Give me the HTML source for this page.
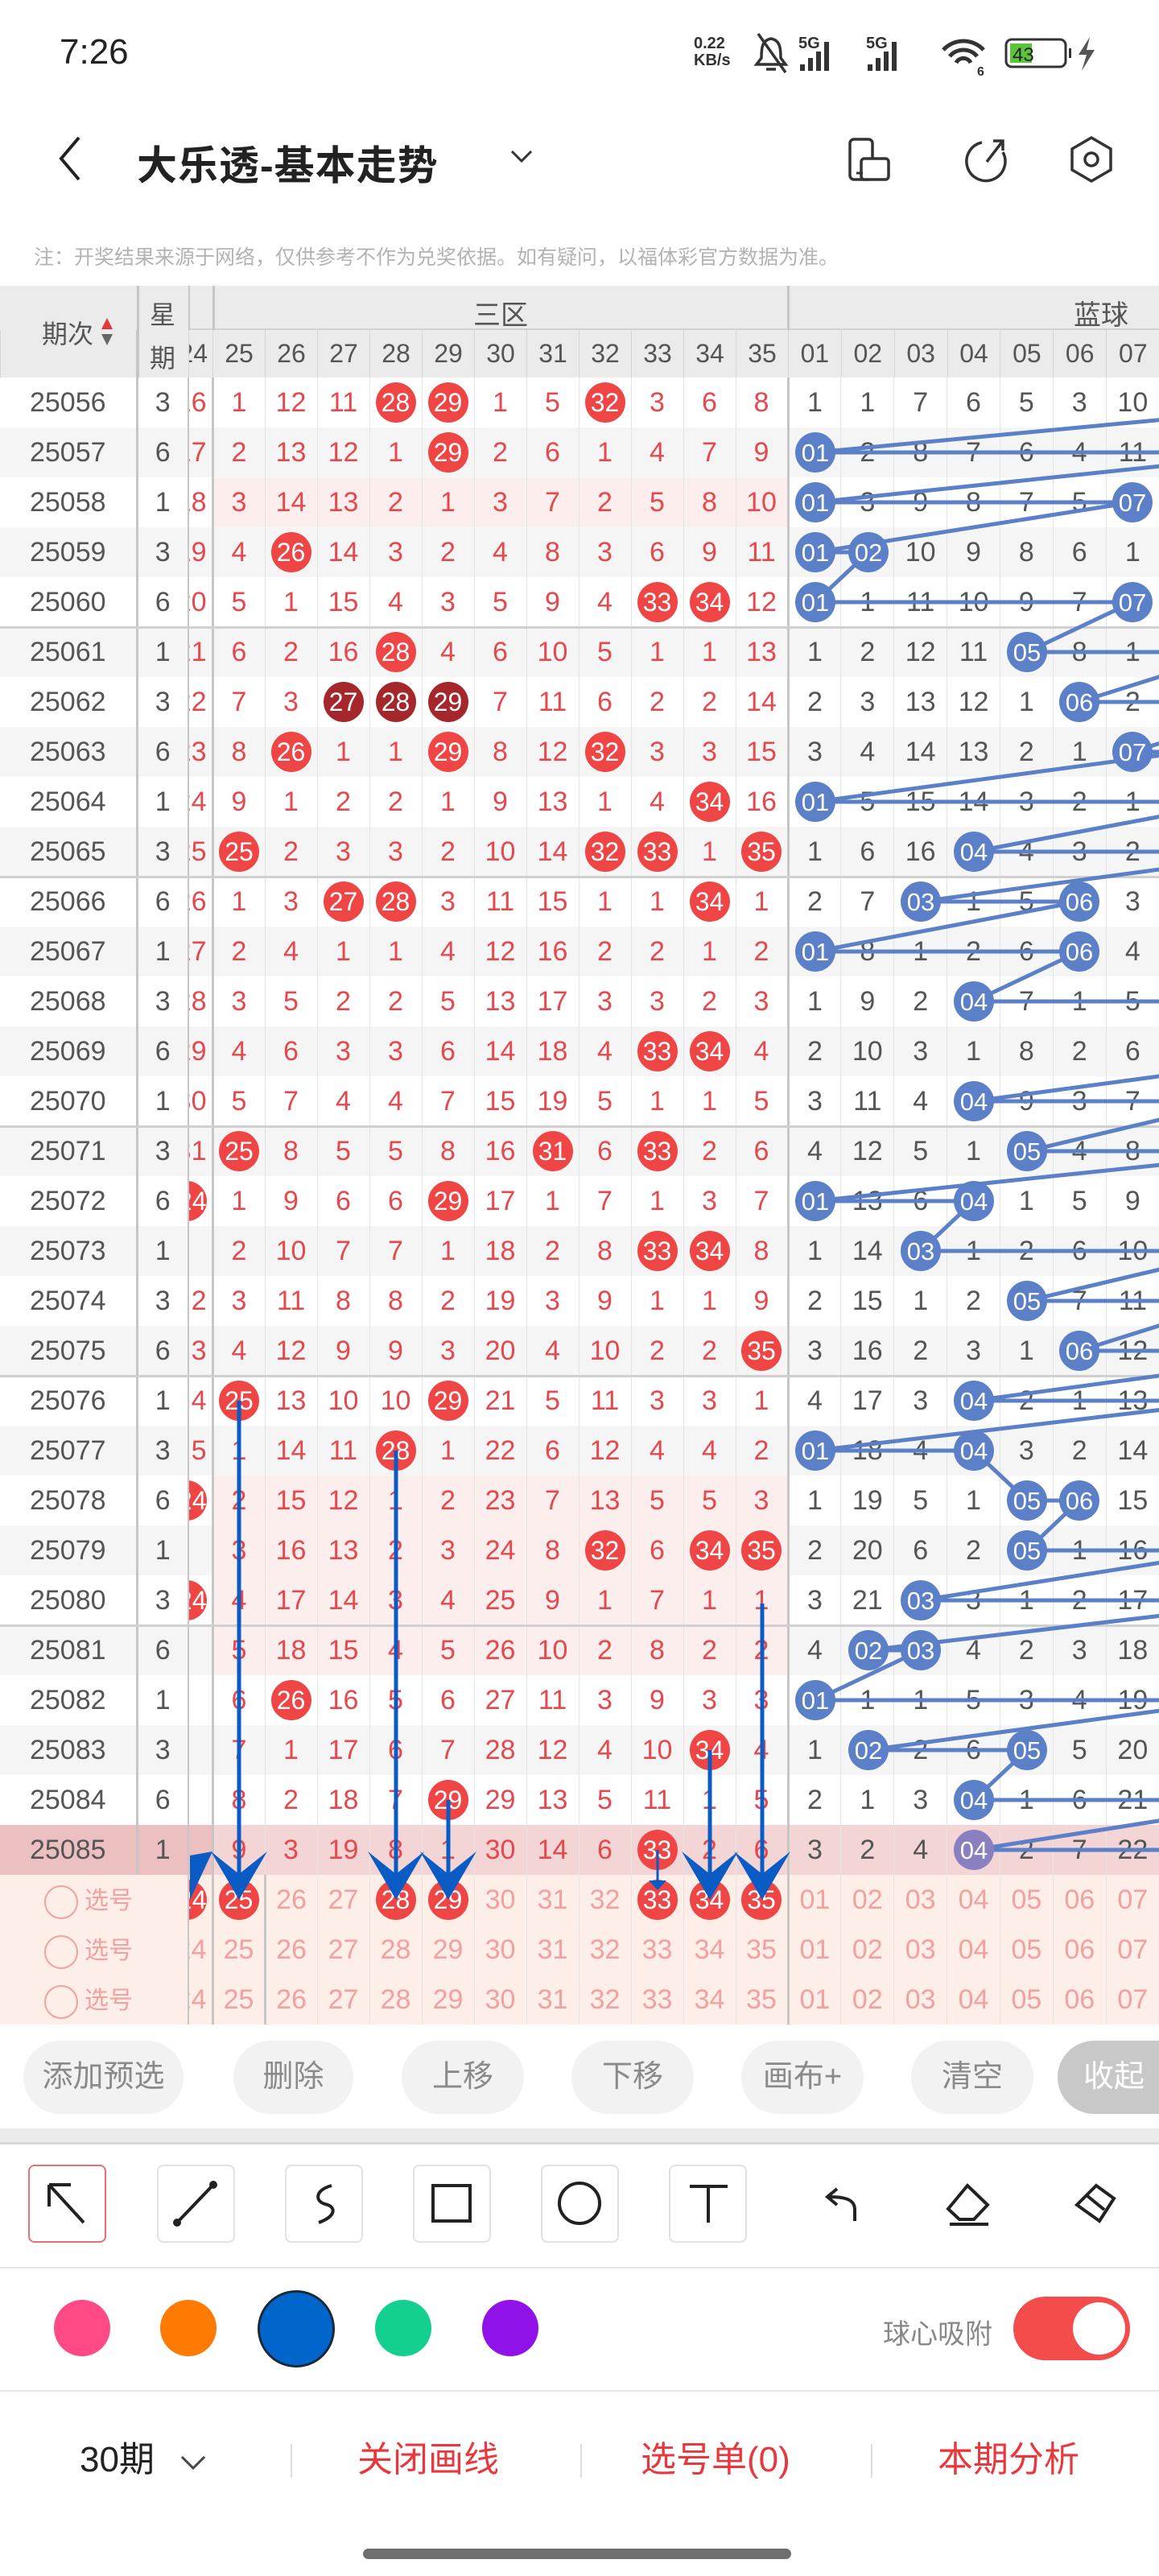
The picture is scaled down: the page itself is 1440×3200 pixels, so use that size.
<!DOCTYPE html>
<html><head><meta charset="utf-8">
<style>
*{margin:0;padding:0;box-sizing:border-box}
body{width:1440px;height:3200px;position:relative;background:#fff;font-family:"Liberation Sans","Noto Sans CJK SC",sans-serif;overflow:hidden}
.a{position:absolute}
table{border-collapse:collapse;table-layout:fixed;width:1440px;position:absolute;left:0}
td{height:62px;padding:0;text-align:center;font-size:34px;color:#e5484d;border-left:1px solid #e4e4e4;overflow:hidden;white-space:nowrap}
td:nth-child(1){color:#555;border-left:none}
td:nth-child(2){color:#555;border-left:3px solid #c6c6c6}
td:nth-child(3){border-left:2px solid #c6c6c6;direction:rtl;text-align:right;padding-right:6px}
td:nth-child(4){border-left:3px solid #c6c6c6}
td:nth-child(n+15){color:#555}
td:nth-child(15){border-left:3px solid #c6c6c6}
#t tr:nth-child(even) td{background:#f5f5f5}
#t tr.p td:nth-child(n+4):nth-child(-n+14){background:#fdeeee}
#t tr.h td{background:#f3d5d5}
#t tr.h td:nth-child(-n+3){background:#ecc0c1}
#t tr.s td{background:#fdeee8;color:#f2a0a0}
#t tr.s td:first-child{text-align:left;padding-left:55px;color:#f2a0a0;font-size:30px;border-left:none}
#t tr.s td:nth-child(2){border-left:2px solid #c6c6c6;direction:rtl;text-align:right;padding-right:6px;color:#f2a0a0}
#t tr.s td:nth-child(3){border-left:3px solid #c6c6c6;direction:ltr;text-align:center;padding:0}
#t tr.s td:nth-child(14){border-left:3px solid #c6c6c6}
#t tr.s td:nth-child(15){border-left:1px solid #e4e4e4}
.o{display:inline-block;width:42px;height:42px;border:2px solid #f2a0a0;border-radius:50%;vertical-align:middle;margin-right:8px}
b{display:inline-block;width:50px;height:50px;border-radius:50%;background:#ef4545;color:#fff;line-height:50px;font-weight:normal;font-size:32px;direction:ltr}
b.d{background:#a5262b}
#hd td{height:59px;background:#ebebeb;color:#555;font-size:32px;border-left:1px solid #d6d6d6}
.btn{position:absolute;top:2535px;height:91px;border-radius:46px;background:#f2f2f2;color:#8a8a8a;font-size:38px;line-height:91px;text-align:center}
.tb{position:absolute;top:2689px;width:97px;height:97px;border:2px solid #e2e2e2;border-radius:8px}
.dot{position:absolute;border-radius:50%}
.bt{position:absolute;top:3028px;font-size:44px;line-height:56px;color:#e8383d}
</style></head><body>

<!-- status bar -->
<div class="a" style="left:74px;top:40px;font-size:44px;color:#222">7:26</div>
<div class="a" style="left:862px;top:44px;font-size:20px;line-height:21px;color:#333;font-weight:bold">0.22<br>KB/s</div>
<svg class="a" style="left:930px;top:38px" width="440" height="56" font-family="Liberation Sans">
<path d="M28 10 C16 12 16 24 16 34 L10 42 L46 42 L40 34 C40 24 40 12 28 10Z M22 48 L34 48" fill="none" stroke="#333" stroke-width="3.5"/><line x1="12" y1="4" x2="46" y2="52" stroke="#333" stroke-width="3.5"/>
<text x="62" y="22" font-size="20" font-weight="bold" fill="#333">5G</text>
<rect x="64" y="42" width="6" height="8" fill="#333"/><rect x="74" y="34" width="6" height="16" fill="#333"/><rect x="84" y="26" width="6" height="24" fill="#333"/><rect x="94" y="14" width="6" height="36" fill="#333"/>
<text x="146" y="22" font-size="20" font-weight="bold" fill="#333">5G</text>
<rect x="148" y="42" width="6" height="8" fill="#333"/><rect x="158" y="34" width="6" height="16" fill="#333"/><rect x="168" y="26" width="6" height="24" fill="#333"/><rect x="178" y="14" width="6" height="36" fill="#333"/>
<path d="M242 24 A34 34 0 0 1 292 24 M250 32 A22 22 0 0 1 284 32 M258 40 A10 10 0 0 1 276 40" fill="none" stroke="#333" stroke-width="5"/>
<text x="284" y="56" font-size="16" font-weight="bold" fill="#333">6</text>
<rect x="320" y="11" width="74" height="34" rx="7" fill="none" stroke="#333" stroke-width="3"/>
<rect x="325" y="16" width="27" height="24" fill="#5cc43a"/>
<text x="328" y="38" font-size="24" fill="#222">43</text>
<rect x="398" y="22" width="3" height="12" fill="#333"/>
<path d="M424 8 L410 30 L420 30 L414 50 L430 24 L420 24Z" fill="#555"/>
</svg>

<!-- title bar -->
<svg class="a" style="left:60px;top:165px" width="50" height="65"><path d="M38 6 L16 32 L38 58" fill="none" stroke="#222" stroke-width="4"/></svg>
<div class="a" style="left:170px;top:166px;font-size:50px;font-weight:bold;color:#222;letter-spacing:1px">大乐透-基本走势</div>
<svg class="a" style="left:630px;top:180px" width="40" height="30"><path d="M6 8 L18 20 L30 8" fill="none" stroke="#333" stroke-width="3"/></svg>
<svg class="a" style="left:1050px;top:165px" width="360" height="65">
<rect x="6" y="8" width="28" height="50" rx="5" fill="none" stroke="#333" stroke-width="3.5"/><rect x="20" y="32" width="34" height="26" rx="4" fill="#fff" stroke="#333" stroke-width="3.5"/><line x1="14" y1="50" x2="22" y2="50" stroke="#333" stroke-width="3"/>
<path d="M170 12 A24 24 0 1 0 196 24" fill="none" stroke="#333" stroke-width="3.5"/><path d="M176 36 L196 10 M184 10 L196 10 L196 22" fill="none" stroke="#333" stroke-width="3.5"/>
<path d="M306 6 L330 20 L330 46 L306 60 L282 46 L282 20Z" fill="none" stroke="#333" stroke-width="3.5"/><circle cx="306" cy="33" r="8" fill="none" stroke="#333" stroke-width="3.5"/>
</svg>
<div class="a" style="left:42px;top:300px;font-size:25px;color:#b3b3b3">注：开奖结果来源于网络，仅供参考不作为兑奖依据。如有疑问，以福体彩官方数据为准。</div>

<!-- header -->
<div class="a" style="left:0;top:355px;width:1440px;height:114px;background:#ebebeb"></div>
<div class="a" style="left:234px;top:408px;width:1206px;height:3px;background:#d2d2d2"></div>
<div class="a" style="left:52px;top:390px;font-size:32px;color:#555">期次</div>
<svg class="a" style="left:124px;top:393px" width="18" height="40"><path d="M9 2 L16 16 L2 16Z" fill="#e5383d"/><path d="M2 22 L16 22 L9 36Z" fill="#666"/></svg>
<div class="a" style="left:186px;top:366px;font-size:32px;color:#555">星</div>
<div class="a" style="left:186px;top:420px;font-size:32px;color:#555">期</div>
<div class="a" style="left:588px;top:364px;font-size:34px;color:#555">三区</div>
<div class="a" style="left:1334px;top:364px;font-size:34px;color:#555">蓝球</div>
<div class="a" style="left:170px;top:355px;width:3px;height:114px;background:#c6c6c6"></div>
<div class="a" style="left:234px;top:355px;width:2px;height:114px;background:#c6c6c6"></div>
<div class="a" style="left:264px;top:355px;width:3px;height:114px;background:#c6c6c6"></div>
<div class="a" style="left:978px;top:355px;width:3px;height:114px;background:#c6c6c6"></div>
<table id="hd" style="top:410px"><colgroup><col style="width:170px"><col style="width:64px"><col style="width:30px"><col span="11" style="width:65px"><col span="7" style="width:65.86px"></colgroup>
<tr><td style="background:transparent"></td><td style="background:transparent;border-left:3px solid #c6c6c6"></td><td>24</td><td>25</td><td>26</td><td>27</td><td>28</td><td>29</td><td>30</td><td>31</td><td>32</td><td>33</td><td>34</td><td>35</td><td>01</td><td>02</td><td>03</td><td>04</td><td>05</td><td>06</td><td>07</td></tr></table>

<!-- main table -->
<table id="t" style="top:469px"><colgroup><col style="width:170px"><col style="width:64px"><col style="width:30px"><col span="11" style="width:65px"><col span="7" style="width:65.86px"></colgroup>
<tr><td>25056</td><td>3</td><td>16</td><td>1</td><td>12</td><td>11</td><td><b>28</b></td><td><b>29</b></td><td>1</td><td>5</td><td><b>32</b></td><td>3</td><td>6</td><td>8</td><td>1</td><td>1</td><td>7</td><td>6</td><td>5</td><td>3</td><td>10</td></tr>
<tr><td>25057</td><td>6</td><td>17</td><td>2</td><td>13</td><td>12</td><td>1</td><td><b>29</b></td><td>2</td><td>6</td><td>1</td><td>4</td><td>7</td><td>9</td><td></td><td>2</td><td>8</td><td>7</td><td>6</td><td>4</td><td>11</td></tr>
<tr class="p"><td>25058</td><td>1</td><td>18</td><td>3</td><td>14</td><td>13</td><td>2</td><td>1</td><td>3</td><td>7</td><td>2</td><td>5</td><td>8</td><td>10</td><td></td><td>3</td><td>9</td><td>8</td><td>7</td><td>5</td><td></td></tr>
<tr><td>25059</td><td>3</td><td>19</td><td>4</td><td><b>26</b></td><td>14</td><td>3</td><td>2</td><td>4</td><td>8</td><td>3</td><td>6</td><td>9</td><td>11</td><td></td><td></td><td>10</td><td>9</td><td>8</td><td>6</td><td>1</td></tr>
<tr><td>25060</td><td>6</td><td>20</td><td>5</td><td>1</td><td>15</td><td>4</td><td>3</td><td>5</td><td>9</td><td>4</td><td><b>33</b></td><td><b>34</b></td><td>12</td><td></td><td>1</td><td>11</td><td>10</td><td>9</td><td>7</td><td></td></tr>
<tr><td>25061</td><td>1</td><td>21</td><td>6</td><td>2</td><td>16</td><td><b>28</b></td><td>4</td><td>6</td><td>10</td><td>5</td><td>1</td><td>1</td><td>13</td><td>1</td><td>2</td><td>12</td><td>11</td><td></td><td>8</td><td>1</td></tr>
<tr><td>25062</td><td>3</td><td>22</td><td>7</td><td>3</td><td><b class="d">27</b></td><td><b class="d">28</b></td><td><b class="d">29</b></td><td>7</td><td>11</td><td>6</td><td>2</td><td>2</td><td>14</td><td>2</td><td>3</td><td>13</td><td>12</td><td>1</td><td></td><td>2</td></tr>
<tr><td>25063</td><td>6</td><td>23</td><td>8</td><td><b>26</b></td><td>1</td><td>1</td><td><b>29</b></td><td>8</td><td>12</td><td><b>32</b></td><td>3</td><td>3</td><td>15</td><td>3</td><td>4</td><td>14</td><td>13</td><td>2</td><td>1</td><td></td></tr>
<tr><td>25064</td><td>1</td><td>24</td><td>9</td><td>1</td><td>2</td><td>2</td><td>1</td><td>9</td><td>13</td><td>1</td><td>4</td><td><b>34</b></td><td>16</td><td></td><td>5</td><td>15</td><td>14</td><td>3</td><td>2</td><td>1</td></tr>
<tr><td>25065</td><td>3</td><td>25</td><td><b>25</b></td><td>2</td><td>3</td><td>3</td><td>2</td><td>10</td><td>14</td><td><b>32</b></td><td><b>33</b></td><td>1</td><td><b>35</b></td><td>1</td><td>6</td><td>16</td><td></td><td>4</td><td>3</td><td>2</td></tr>
<tr><td>25066</td><td>6</td><td>26</td><td>1</td><td>3</td><td><b>27</b></td><td><b>28</b></td><td>3</td><td>11</td><td>15</td><td>1</td><td>1</td><td><b>34</b></td><td>1</td><td>2</td><td>7</td><td></td><td>1</td><td>5</td><td></td><td>3</td></tr>
<tr><td>25067</td><td>1</td><td>27</td><td>2</td><td>4</td><td>1</td><td>1</td><td>4</td><td>12</td><td>16</td><td>2</td><td>2</td><td>1</td><td>2</td><td></td><td>8</td><td>1</td><td>2</td><td>6</td><td></td><td>4</td></tr>
<tr><td>25068</td><td>3</td><td>28</td><td>3</td><td>5</td><td>2</td><td>2</td><td>5</td><td>13</td><td>17</td><td>3</td><td>3</td><td>2</td><td>3</td><td>1</td><td>9</td><td>2</td><td></td><td>7</td><td>1</td><td>5</td></tr>
<tr><td>25069</td><td>6</td><td>29</td><td>4</td><td>6</td><td>3</td><td>3</td><td>6</td><td>14</td><td>18</td><td>4</td><td><b>33</b></td><td><b>34</b></td><td>4</td><td>2</td><td>10</td><td>3</td><td>1</td><td>8</td><td>2</td><td>6</td></tr>
<tr><td>25070</td><td>1</td><td>30</td><td>5</td><td>7</td><td>4</td><td>4</td><td>7</td><td>15</td><td>19</td><td>5</td><td>1</td><td>1</td><td>5</td><td>3</td><td>11</td><td>4</td><td></td><td>9</td><td>3</td><td>7</td></tr>
<tr><td>25071</td><td>3</td><td>31</td><td><b>25</b></td><td>8</td><td>5</td><td>5</td><td>8</td><td>16</td><td><b>31</b></td><td>6</td><td><b>33</b></td><td>2</td><td>6</td><td>4</td><td>12</td><td>5</td><td>1</td><td></td><td>4</td><td>8</td></tr>
<tr><td>25072</td><td>6</td><td><b>24</b></td><td>1</td><td>9</td><td>6</td><td>6</td><td><b>29</b></td><td>17</td><td>1</td><td>7</td><td>1</td><td>3</td><td>7</td><td></td><td>13</td><td>6</td><td></td><td>1</td><td>5</td><td>9</td></tr>
<tr><td>25073</td><td>1</td><td></td><td>2</td><td>10</td><td>7</td><td>7</td><td>1</td><td>18</td><td>2</td><td>8</td><td><b>33</b></td><td><b>34</b></td><td>8</td><td>1</td><td>14</td><td></td><td>1</td><td>2</td><td>6</td><td>10</td></tr>
<tr><td>25074</td><td>3</td><td>2</td><td>3</td><td>11</td><td>8</td><td>8</td><td>2</td><td>19</td><td>3</td><td>9</td><td>1</td><td>1</td><td>9</td><td>2</td><td>15</td><td>1</td><td>2</td><td></td><td>7</td><td>11</td></tr>
<tr><td>25075</td><td>6</td><td>3</td><td>4</td><td>12</td><td>9</td><td>9</td><td>3</td><td>20</td><td>4</td><td>10</td><td>2</td><td>2</td><td><b>35</b></td><td>3</td><td>16</td><td>2</td><td>3</td><td>1</td><td></td><td>12</td></tr>
<tr><td>25076</td><td>1</td><td>4</td><td><b>25</b></td><td>13</td><td>10</td><td>10</td><td><b>29</b></td><td>21</td><td>5</td><td>11</td><td>3</td><td>3</td><td>1</td><td>4</td><td>17</td><td>3</td><td></td><td>2</td><td>1</td><td>13</td></tr>
<tr><td>25077</td><td>3</td><td>5</td><td>1</td><td>14</td><td>11</td><td><b>28</b></td><td>1</td><td>22</td><td>6</td><td>12</td><td>4</td><td>4</td><td>2</td><td></td><td>18</td><td>4</td><td></td><td>3</td><td>2</td><td>14</td></tr>
<tr class="p"><td>25078</td><td>6</td><td><b>24</b></td><td>2</td><td>15</td><td>12</td><td>1</td><td>2</td><td>23</td><td>7</td><td>13</td><td>5</td><td>5</td><td>3</td><td>1</td><td>19</td><td>5</td><td>1</td><td></td><td></td><td>15</td></tr>
<tr class="p"><td>25079</td><td>1</td><td></td><td>3</td><td>16</td><td>13</td><td>2</td><td>3</td><td>24</td><td>8</td><td><b>32</b></td><td>6</td><td><b>34</b></td><td><b>35</b></td><td>2</td><td>20</td><td>6</td><td>2</td><td></td><td>1</td><td>16</td></tr>
<tr class="p"><td>25080</td><td>3</td><td><b>24</b></td><td>4</td><td>17</td><td>14</td><td>3</td><td>4</td><td>25</td><td>9</td><td>1</td><td>7</td><td>1</td><td>1</td><td>3</td><td>21</td><td></td><td>3</td><td>1</td><td>2</td><td>17</td></tr>
<tr class="p"><td>25081</td><td>6</td><td></td><td>5</td><td>18</td><td>15</td><td>4</td><td>5</td><td>26</td><td>10</td><td>2</td><td>8</td><td>2</td><td>2</td><td>4</td><td></td><td></td><td>4</td><td>2</td><td>3</td><td>18</td></tr>
<tr><td>25082</td><td>1</td><td></td><td>6</td><td><b>26</b></td><td>16</td><td>5</td><td>6</td><td>27</td><td>11</td><td>3</td><td>9</td><td>3</td><td>3</td><td></td><td>1</td><td>1</td><td>5</td><td>3</td><td>4</td><td>19</td></tr>
<tr><td>25083</td><td>3</td><td></td><td>7</td><td>1</td><td>17</td><td>6</td><td>7</td><td>28</td><td>12</td><td>4</td><td>10</td><td><b>34</b></td><td>4</td><td>1</td><td></td><td>2</td><td>6</td><td></td><td>5</td><td>20</td></tr>
<tr><td>25084</td><td>6</td><td></td><td>8</td><td>2</td><td>18</td><td>7</td><td><b>29</b></td><td>29</td><td>13</td><td>5</td><td>11</td><td>1</td><td>5</td><td>2</td><td>1</td><td>3</td><td></td><td>1</td><td>6</td><td>21</td></tr>
<tr class="h"><td>25085</td><td>1</td><td></td><td>9</td><td>3</td><td>19</td><td>8</td><td>1</td><td>30</td><td>14</td><td>6</td><td><b>33</b></td><td>2</td><td>6</td><td>3</td><td>2</td><td>4</td><td></td><td>2</td><td>7</td><td>22</td></tr>
<tr class="s"><td colspan="2"><span class="o"></span>选号</td><td><b>24</b></td><td><b>25</b></td><td>26</td><td>27</td><td><b>28</b></td><td><b>29</b></td><td>30</td><td>31</td><td>32</td><td><b>33</b></td><td><b>34</b></td><td><b>35</b></td><td>01</td><td>02</td><td>03</td><td>04</td><td>05</td><td>06</td><td>07</td></tr>
<tr class="s"><td colspan="2"><span class="o"></span>选号</td><td>24</td><td>25</td><td>26</td><td>27</td><td>28</td><td>29</td><td>30</td><td>31</td><td>32</td><td>33</td><td>34</td><td>35</td><td>01</td><td>02</td><td>03</td><td>04</td><td>05</td><td>06</td><td>07</td></tr>
<tr class="s"><td colspan="2"><span class="o"></span>选号</td><td>24</td><td>25</td><td>26</td><td>27</td><td>28</td><td>29</td><td>30</td><td>31</td><td>32</td><td>33</td><td>34</td><td>35</td><td>01</td><td>02</td><td>03</td><td>04</td><td>05</td><td>06</td><td>07</td></tr>
</table>

<!-- overlay -->
<svg class="a" style="left:0;top:0" width="1440" height="2520" font-family="Liberation Sans">
<g fill="#d0d0d0"><rect x="0" y="778" width="1440" height="3"/><rect x="0" y="1088" width="1440" height="3"/><rect x="0" y="1398" width="1440" height="3"/><rect x="0" y="1708" width="1440" height="3"/><rect x="0" y="2018" width="1440" height="3"/></g>
<polyline fill="none" stroke="#5b80c8" stroke-width="5" points="1538,500 1670,500 1013,562 1604,562 1013,624 1407,624 1013,686 1079,686 1013,748 1407,748 1276,810 1538,810 1341,872 1604,872 1407,934 1473,934 1013,996 1538,996 1210,1058 1604,1058 1144,1120 1341,1120 1013,1182 1341,1182 1210,1244 1538,1244 1538,1306 1670,1306 1210,1368 1538,1368 1276,1430 1604,1430 1013,1492 1210,1492 1144,1554 1538,1554 1276,1616 1538,1616 1341,1678 1670,1678 1210,1740 1538,1740 1013,1802 1210,1802 1276,1864 1341,1864 1276,1926 1538,1926 1144,1988 1604,1988 1079,2050 1144,2050 1013,2112 1538,2112 1079,2174 1276,2174 1210,2236 1604,2236 1210,2298 1604,2298"/>
<g fill="#5b80c8"><circle cx="1013" cy="562" r="25"/><circle cx="1013" cy="624" r="25"/><circle cx="1407" cy="624" r="25"/><circle cx="1013" cy="686" r="25"/><circle cx="1079" cy="686" r="25"/><circle cx="1013" cy="748" r="25"/><circle cx="1407" cy="748" r="25"/><circle cx="1276" cy="810" r="25"/><circle cx="1341" cy="872" r="25"/><circle cx="1407" cy="934" r="25"/><circle cx="1013" cy="996" r="25"/><circle cx="1210" cy="1058" r="25"/><circle cx="1144" cy="1120" r="25"/><circle cx="1341" cy="1120" r="25"/><circle cx="1013" cy="1182" r="25"/><circle cx="1341" cy="1182" r="25"/><circle cx="1210" cy="1244" r="25"/><circle cx="1210" cy="1368" r="25"/><circle cx="1276" cy="1430" r="25"/><circle cx="1013" cy="1492" r="25"/><circle cx="1210" cy="1492" r="25"/><circle cx="1144" cy="1554" r="25"/><circle cx="1276" cy="1616" r="25"/><circle cx="1341" cy="1678" r="25"/><circle cx="1210" cy="1740" r="25"/><circle cx="1013" cy="1802" r="25"/><circle cx="1210" cy="1802" r="25"/><circle cx="1276" cy="1864" r="25"/><circle cx="1341" cy="1864" r="25"/><circle cx="1276" cy="1926" r="25"/><circle cx="1144" cy="1988" r="25"/><circle cx="1079" cy="2050" r="25"/><circle cx="1144" cy="2050" r="25"/><circle cx="1013" cy="2112" r="25"/><circle cx="1079" cy="2174" r="25"/><circle cx="1276" cy="2174" r="25"/><circle cx="1210" cy="2236" r="25"/><circle cx="1210" cy="2298" r="25" fill="#8a80c0"/></g>
<g fill="#fff" font-size="31" text-anchor="middle">
<text x="1013" y="573">01</text><text x="1013" y="635">01</text><text x="1407" y="635">07</text><text x="1013" y="697">01</text><text x="1079" y="697">02</text><text x="1013" y="759">01</text><text x="1407" y="759">07</text><text x="1276" y="821">05</text><text x="1341" y="883">06</text><text x="1407" y="945">07</text><text x="1013" y="1007">01</text><text x="1210" y="1069">04</text><text x="1144" y="1131">03</text><text x="1341" y="1131">06</text><text x="1013" y="1193">01</text><text x="1341" y="1193">06</text><text x="1210" y="1255">04</text><text x="1210" y="1379">04</text><text x="1276" y="1441">05</text><text x="1013" y="1503">01</text><text x="1210" y="1503">04</text><text x="1144" y="1565">03</text><text x="1276" y="1627">05</text><text x="1341" y="1689">06</text><text x="1210" y="1751">04</text><text x="1013" y="1813">01</text><text x="1210" y="1813">04</text><text x="1276" y="1875">05</text><text x="1341" y="1875">06</text><text x="1276" y="1937">05</text><text x="1144" y="1999">03</text><text x="1079" y="2061">02</text><text x="1144" y="2061">03</text><text x="1013" y="2123">01</text><text x="1079" y="2185">02</text><text x="1276" y="2185">05</text><text x="1210" y="2247">04</text><text x="1210" y="2309">04</text></g>
<g stroke="#0a5cc4" stroke-width="5"><line x1="297" y1="1740" x2="297" y2="2330"/><line x1="492" y1="1802" x2="492" y2="2330"/><line x1="557" y1="2236" x2="557" y2="2330"/><line x1="882" y1="2174" x2="882" y2="2330"/><line x1="947" y1="1992" x2="947" y2="2330"/><line x1="817" y1="2298" x2="817" y2="2340" stroke-width="3"/></g>
<g fill="#0a5cc4"><path d="M297 2360 L262 2300 L297 2328 L332 2300Z"/><path d="M492 2360 L457 2300 L492 2328 L527 2300Z"/><path d="M557 2360 L522 2300 L557 2328 L592 2300Z"/><path d="M882 2360 L847 2300 L882 2328 L917 2300Z"/><path d="M947 2360 L912 2300 L947 2328 L982 2300Z"/><path d="M236 2360 L236 2305 L264 2300Z"/><path d="M817 2348 L806 2336 L828 2336Z"/></g>
</svg>

<!-- buttons -->
<div class="btn" style="left:29px;width:199px">添加预选</div>
<div class="btn" style="left:290px;width:149px">删除</div>
<div class="btn" style="left:499px;width:152px">上移</div>
<div class="btn" style="left:710px;width:152px">下移</div>
<div class="btn" style="left:921px;width:152px">画布+</div>
<div class="btn" style="left:1132px;width:152px">清空</div>
<div class="btn" style="left:1314px;width:140px;background:#c8c8c8;color:#fff;border-radius:46px 0 0 46px">收起</div>
<div class="a" style="left:0;top:2644px;width:1440px;height:20px;background:#ebebeb;border-bottom:3px solid #d8d8d8"></div>

<!-- toolbar -->
<div class="tb" style="left:35px;border-color:#e87070"></div>
<div class="tb" style="left:195px"></div>
<div class="tb" style="left:354px"></div>
<div class="tb" style="left:513px"></div>
<div class="tb" style="left:672px"></div>
<div class="tb" style="left:831px"></div>
<svg class="a" style="left:0;top:2689px" width="1440" height="97" fill="none" stroke="#222" stroke-width="4">
<path d="M61 25 L104 72 M61 25 L61 52 M61 25 L88 25"/>
<line x1="220" y1="72" x2="265" y2="25"/><circle cx="220" cy="72" r="3" fill="#222"/><circle cx="265" cy="25" r="3" fill="#222"/>
<path d="M412 26 C390 32 392 46 404 49 C418 52 418 64 396 72"/>
<rect x="538" y="26" width="46" height="44"/>
<circle cx="720" cy="48" r="25"/>
<path d="M857 27 L904 27 M880 27 L880 72"/>
<path d="M1062 70 L1062 56 C1062 44 1052 40 1030 40 M1040 30 L1028 40 L1040 50"/>
<path d="M1202 26 L1227 50 L1210 68 L1192 68 L1178 55Z M1180 74 L1228 74"/>
<path d="M1362 26 L1384 42 L1366 70 L1338 50Z M1350 38 L1372 56"/>
</svg>
<div class="a" style="left:0;top:2816px;width:1440px;height:2px;background:#e6e6e6"></div>

<!-- colors -->
<div class="dot" style="left:67px;top:2857px;width:70px;height:70px;background:#ff4a85"></div>
<div class="dot" style="left:199px;top:2857px;width:70px;height:70px;background:#ff7a00"></div>
<div class="dot" style="left:320px;top:2845px;width:96px;height:96px;background:#0066cc;border:3px solid #1a2a3a"></div>
<div class="dot" style="left:466px;top:2857px;width:70px;height:70px;background:#13d08e"></div>
<div class="dot" style="left:599px;top:2857px;width:70px;height:70px;background:#9012e8"></div>
<div class="a" style="left:1097px;top:2872px;font-size:34px;color:#888">球心吸附</div>
<div class="a" style="left:1259px;top:2853px;width:145px;height:79px;border-radius:40px;background:#f44b4b"></div>
<div class="dot" style="left:1333px;top:2860px;width:65px;height:65px;background:#fff"></div>
<div class="a" style="left:0;top:2969px;width:1440px;height:2px;background:#e6e6e6"></div>

<!-- bottom bar -->
<div class="bt" style="left:99px;color:#222">30期</div>
<svg class="a" style="left:222px;top:3044px" width="40" height="30"><path d="M4 8 L18 22 L32 8" fill="none" stroke="#444" stroke-width="3"/></svg>
<div class="a" style="left:361px;top:3036px;width:2px;height:42px;background:#ddd"></div>
<div class="a" style="left:721px;top:3036px;width:2px;height:42px;background:#ddd"></div>
<div class="a" style="left:1082px;top:3036px;width:2px;height:42px;background:#ddd"></div>
<div class="bt" style="left:444px">关闭画线</div>
<div class="bt" style="left:796px">选号单(0)</div>
<div class="bt" style="left:1165px">本期分析</div>
<div class="a" style="left:451px;top:3166px;width:532px;height:13px;border-radius:7px;background:#6e6e6e"></div>
</body></html>
